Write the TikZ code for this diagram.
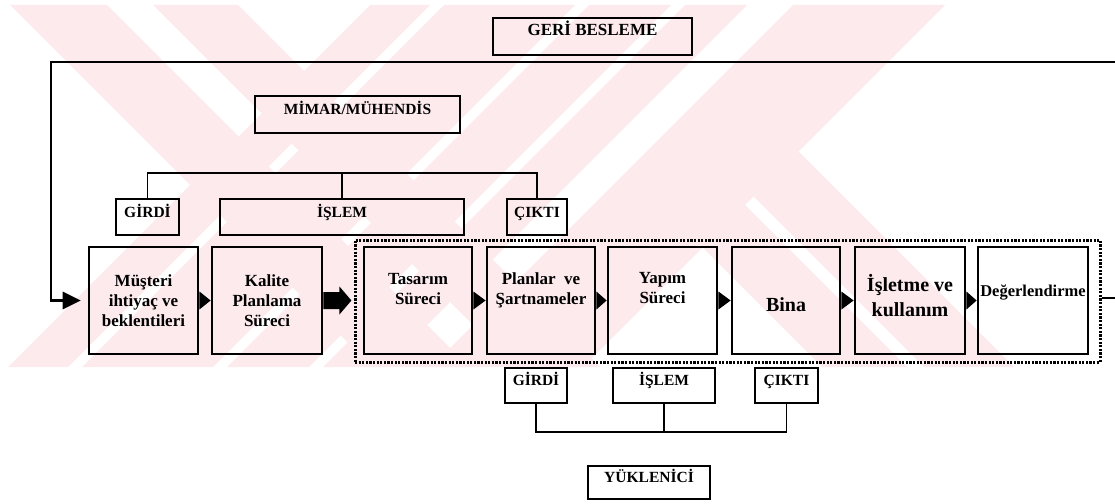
\documentclass[tikz,border=0pt]{standalone}
\usepackage{fontspec}
\setmainfont{Liberation Serif}
\usetikzlibrary{calc}
\definecolor{wmpink}{RGB}{252,234,237}
% diagonal background stripes: \wmBack{a}{b} runs down-right, \wmFwd{a}{b} runs down-left
\newcommand\wmBack[2]{\fill[wmpink] (#1+5,5) -- (#2+5,5) -- (#2+367,367) -- (#1+367,367) -- cycle;}
\newcommand\wmFwd[2]{\fill[wmpink] (#1-5,5) -- (#2-5,5) -- (#2-367,367) -- (#1-367,367) -- cycle;}
\tikzset{
  box/.style={draw, line width=2.8pt, minimum width=#1, minimum height=107pt, inner sep=0pt},
  tag/.style={draw, line width=2.6pt, minimum width=#1, minimum height=36pt, inner sep=0pt},
  maintxt/.style={font=\fontsize{17}{20}\selectfont\bfseries, align=center, inner sep=0pt},
  bigtxt/.style={font=\fontsize{20}{25}\selectfont\bfseries, align=center, inner sep=0pt},
  tagtxt/.style={font=\fontsize{15.5}{18}\selectfont\bfseries, inner sep=0pt, text height=10.5pt, text depth=0pt},
  conn/.style={line width=1.3pt},
  loop/.style={line width=2.8pt},
  dotbox/.style={draw, line width=3pt, dash pattern=on 2.2pt off 1.4pt, minimum width=745pt, minimum height=122pt, inner sep=0pt},
}
\begin{document}
\begin{tikzpicture}[x=1pt,y=-1pt]
\useasboundingbox (0,0) rectangle (1115,503);
\clip (0,0) rectangle (1115,503);

% background stripes
\begin{scope}
  \clip (0,5) rectangle (1115,367);
  \wmBack{5}{102}
  \wmBack{148}{233}
  \wmFwd{375}{435}
  \wmFwd{449}{580}
  \wmFwd{594}{676}
  \wmFwd{690}{752}
  \wmFwd{798}{950}
  % arms branching off the right-hand stripe
  \fill[wmpink] (753.5,196.5) -- (798.5,151.5) -- (1014,367) -- (924,367) -- cycle;
  \fill[wmpink] (702.5,247.5) -- (745,205) -- (907,367) -- (822,367) -- cycle;
\end{scope}

% feedback and designer labels
\node[draw, line width=2.6pt, minimum width=199pt, minimum height=37pt, inner sep=0pt] (geri) at (592.5,36.5) {};
\node[tagtxt, font=\fontsize{17}{20}\selectfont\bfseries] (geriT) at ($(geri.center)+(0,-6.5)$) {GERİ BESLEME};
\node[draw, line width=2.6pt, minimum width=205pt, minimum height=37pt, inner sep=0pt] (mimar) at (357.5,114.5) {};
\node[tagtxt] (mimarT) at ($(mimar.center)+(0,-5.5)$) {MİMAR/MÜHENDİS};

% designer input / process / output
\node[tag=63pt] (g1) at (147.5,217) {};
\node[tagtxt] (g1T) at ($(g1.center)+(0,-5)$) {GİRDİ};
\node[tag=244pt] (i1) at (342,217) {};
\node[tagtxt] (i1T) at ($(i1.center)+(0,-5)$) {İŞLEM};
\node[tag=60pt] (c1) at (537,217) {};
\node[tagtxt] (c1T) at ($(c1.center)+(0,-5)$) {ÇIKTI};
\coordinate (topbar) at (0,173);
\draw[conn] (g1.north) -- (g1.north |- topbar) -- (c1.north |- topbar) -- (c1.north);
\draw[conn] (i1.north) -- (i1.north |- topbar);

% main chain
\node[dotbox] (dot) at (727.5,301) {};
\node[box=109pt] (mus) at (143.5,300.5) {};
\node[maintxt] (musT) at (mus.center) {Müşteri\\ihtiyaç ve\\beklentileri};
\node[box=110pt] (kal) at (267,300.5) {};
\node[maintxt] (kalT) at (kal.center) {Kalite\\Planlama\\Süreci};
\node[box=108pt] (tas) at (418,300.5) {};
\node[maintxt] (tasT) at ($(tas.center)+(0,-11)$) {Tasarım\\Süreci};
\node[box=108pt] (pla) at (541,300.5) {};
\node[maintxt] (plaT) at ($(pla.center)+(0,-10)$) {Planlar~ ve\\Şartnameler};
\node[box=109pt] (yap) at (662.5,300.5) {};
\node[maintxt] (yapT) at ($(yap.center)+(0,-12)$) {Yapım\\Süreci};
\node[box=108pt] (bin) at (786,300.5) {};
\node[bigtxt] (binT) at ($(bin.center)+(0,4.5)$) {Bina};
\node[box=110pt] (isl) at (910,300.5) {};
\node[bigtxt] (islT) at ($(isl.center)+(0,-5)$) {İşletme ve\\kullanım};
\node[box=110pt] (deg) at (1033,300.5) {};
\node[maintxt, font=\fontsize{16.5}{20}\selectfont\bfseries] (degT) at ($(deg.center)+(0,-7.5)$) {Değerlendirme};

% small arrowheads between the boxes
\foreach \a/\b in {mus/kal, tas/pla, pla/yap, yap/bin, bin/isl, isl/deg}
  \fill ($(\a.east)+(0,-9)$) -- (\b.west) -- ($(\a.east)+(0,9)$) -- cycle;
% block arrow into the dotted group
\fill ($(kal.east)+(0,-8.5)$) -- ($(kal.east)+(16,-8.5)$) -- ($(kal.east)+(16,-14)$)
  -- ($(kal.east)+(28,0)$) -- ($(kal.east)+(16,14)$) -- ($(kal.east)+(16,8.5)$)
  -- ($(kal.east)+(0,8.5)$) -- cycle;

% feedback loop
\coordinate (loopR) at (1135,298);
\coordinate (loopT) at (1135,62);
\coordinate (loopL) at (51,62);
\draw[loop] (dot.east |- loopR) -- (loopR) -- (loopT) -- (loopL) -- (loopL |- mus.west) -- ($(mus.west)+(-24,0)$);
\fill ($(mus.west)+(-25,-9)$) -- ($(mus.west)+(-7,0)$) -- ($(mus.west)+(-25,9)$) -- cycle;

% contractor input / process / output
\node[tag=62pt, minimum height=35pt] (g2) at (536,385.5) {};
\node[tagtxt] (g2T) at ($(g2.center)+(0,-5)$) {GİRDİ};
\node[tag=102pt, minimum height=35pt] (i2) at (664,385.5) {};
\node[tagtxt] (i2T) at ($(i2.center)+(0,-5)$) {İŞLEM};
\node[tag=63pt, minimum height=35pt] (c2) at (786.5,385.5) {};
\node[tagtxt] (c2T) at ($(c2.center)+(0,-5)$) {ÇIKTI};
\coordinate (botbar) at (0,432);
\draw[conn] (g2.south) -- (g2.south |- botbar) -- (c2.south |- botbar) -- (c2.south);
\draw[conn] (i2.south) -- (i2.south |- botbar);

\node[draw, line width=2.6pt, minimum width=122pt, minimum height=33pt, inner sep=0pt] (ykl) at (649,482.5) {};
\node[tagtxt] (yklT) at ($(ykl.center)+(0,-5)$) {YÜKLENİCİ};
\end{tikzpicture}
\end{document}
